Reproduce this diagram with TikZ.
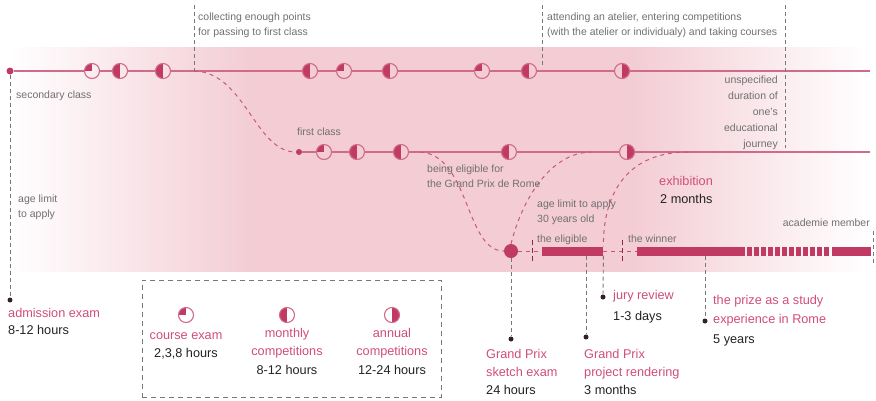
\documentclass[tikz,border=0pt]{standalone}
\usepackage{fontspec}
\setmainfont{Liberation Sans}
\begin{document}
\definecolor{crim}{RGB}{192,58,100}
\definecolor{crimtext}{RGB}{208,78,118}
\definecolor{bandpink}{RGB}{243,204,212}
\definecolor{txtgray}{RGB}{112,112,112}
\definecolor{txtdark}{RGB}{34,34,34}
\definecolor{dashgray}{RGB}{120,120,120}
\definecolor{dotdark}{RGB}{50,35,30}
% the shaded path is mapped onto the central 25bp--75bp part of the shading
\pgfdeclarehorizontalshading{bandfade}{100bp}{color(0bp)=(white); color(25.5bp)=(white); color(39.5bp)=(bandpink); color(61bp)=(bandpink); color(74.5bp)=(white); color(100bp)=(white)}
\tikzset{
  lbl/.style={inner sep=0, text=txtgray, font=\fontsize{10.5}{12}\selectfont, anchor=base west},
  lblbig/.style={inner sep=0, text=crimtext, font=\fontsize{12.7}{15}\selectfont, anchor=base west},
  lbldark/.style={lblbig, text=txtdark},
  icon/.style={circle, draw=crim!75, line width=1.1pt, minimum size=15pt, inner sep=0},
  courseicon/.style={icon, path picture={\fill[crim] (path picture bounding box.center) rectangle (path picture bounding box.north west);}},
  monthicon/.style={icon, path picture={\fill[crim] (path picture bounding box.north) rectangle (path picture bounding box.south west);}},
  yearicon/.style={icon, path picture={\fill[crim] (path picture bounding box.north) rectangle (path picture bounding box.south east);}},
  track/.style={crim!75, line width=1.1pt},
  route/.style={crim!85, line width=1pt, dash pattern=on 4pt off 4pt},
  guide/.style={dashgray, line width=0.9pt, dash pattern=on 4pt off 3pt},
  tickmark/.style={crim!70!black, line width=1pt, dash pattern=on 5pt off 3pt},
  enddot/.style={circle, fill=dotdark, minimum size=5pt, inner sep=0},
  bar/.style={fill=crim, draw=none, inner sep=0, minimum height=9pt},
  legendbox/.style={draw=dashgray, line width=0.9pt, dash pattern=on 5pt off 4pt, inner sep=0}
}
\begin{tikzpicture}[x=1pt, y=-1pt]
\useasboundingbox (0,0) rectangle (876,400);
% pink band behind the two tracks
\shade[shading=bandfade] (0,47) rectangle (876,271);

% secondary class track
\node[circle, fill=crim, minimum size=7pt, inner sep=0] (sdot) at (10,71) {};
\node[courseicon] (a1) at (92,71) {};
\node[monthicon]  (a2) at (120,71) {};
\node[monthicon]  (a3) at (163,71) {};
\node[monthicon]  (a4) at (310,71) {};
\node[courseicon] (a5) at (344,71) {};
\node[monthicon]  (a6) at (390,71) {};
\node[courseicon] (a7) at (482,71) {};
\node[monthicon]  (a8) at (529,71) {};
\node[yearicon]   (a9) at (622,71) {};
\coordinate (line1end) at (870,71);
\draw[track] (sdot) -- (a1) -- (a2) -- (a3) -- (a4) -- (a5) -- (a6) -- (a7) -- (a8) -- (a9) -- (line1end);

% first class track
\node[circle, fill=crim, minimum size=6pt, inner sep=0] (fdot) at (299,152) {};
\node[courseicon] (b1) at (324,152) {};
\node[monthicon]  (b2) at (357,152) {};
\node[monthicon]  (b3) at (401,152) {};
\node[monthicon]  (b4) at (509,152) {};
\node[yearicon]   (b5) at (627,152) {};
\coordinate (line2end) at (870,152);
\draw[track] (fdot) -- (b1) -- (b2) -- (b3) -- (b4) -- (b5) -- (line2end);

% Grand Prix stage
\node[circle, fill=crim, minimum size=14pt, inner sep=0] (bigdot) at (511,251) {};
\node[bar, minimum width=61pt, anchor=west] (elig) at (542,251) {};
\node[bar, minimum width=108pt, anchor=west] (win) at (637,251) {};
\node[bar, minimum width=39pt, anchor=west] (acad) at (832,251) {};
\foreach \i in {0,...,11} \fill[crim] ({747+\i*7},246.5) rectangle +(5.2,9);

% dashed routes between the tracks
\coordinate (leave1) at (194,71);
\coordinate (leave2) at (420,152);
\coordinate (join2) at (592,152);
\coordinate (leave3) at (688,152);
\draw[route] (leave1) .. controls (245,72) and (255,152) .. (fdot.west);
\draw[route] (leave2) .. controls (470,155) and (465,251) .. (bigdot.west);
\draw[route] (bigdot.north) .. controls (522,200) and (550,152) .. (join2);
\draw[route] (leave3) .. controls (630,152) and (603,190) .. (elig.north east);
\draw[route] (bigdot.east) -- (elig.west);
\draw[route] (elig.east) -- (win.west);
\coordinate (tickA1) at (532,240); \coordinate (tickA2) at (532,262);
\coordinate (tickB1) at (622,240); \coordinate (tickB2) at (622,262);
\draw[tickmark] (tickA1) -- (tickA2);
\draw[tickmark] (tickB1) -- (tickB2);

% grey guide lines
\coordinate (collTop) at (194,5);
\coordinate (atTop) at (542,5);
\coordinate (atBot) at (542,68);
\coordinate (durTop) at (785,5);
\coordinate (durBot) at (785,148);
\coordinate (acTop) at (873,231);
\coordinate (acBot) at (873,266);
\draw[guide] (collTop) -- (leave1);
\draw[guide] (atTop) -- (atBot);
\draw[guide] (durTop) -- (durBot);
\draw[guide] (acTop) -- (acBot);

\node[enddot] (admdot) at (10,300) {};
\node[enddot] (sketchdot) at (511,339) {};
\node[enddot] (renderdot) at (586,337) {};
\node[enddot] (jurydot) at (603,297) {};
\node[enddot] (prizedot) at (705,321) {};
\draw[guide] (sdot) -- (admdot);
\draw[guide] (bigdot) -- (sketchdot);
\draw[guide] (elig.south -| renderdot) -- (renderdot);
\draw[guide] (elig.south east) -- (jurydot);
\draw[guide] (win.south -| prizedot) -- (prizedot);

% small grey labels
\node[lbl] (coll1) at (198,20) {collecting enough points};
\node[lbl] (coll2) at (198,35) {for passing to first class};
\node[lbl] (att1) at (547,20) {attending an atelier, entering competitions};
\node[lbl] (att2) at (547,35) {(with the atelier or individualy) and taking courses};
\node[lbl] (sec) at (16,98) {secondary class};
\node[lbl] (age1) at (18,202) {age limit};
\node[lbl] (age2) at (18,217) {to apply};
\node[lbl, anchor=base east] (dur1) at (778,83) {unspecified};
\node[lbl, anchor=base east] (dur2) at (778,99) {duration of};
\node[lbl, anchor=base east] (dur3) at (778,115) {one's};
\node[lbl, anchor=base east] (dur4) at (778,131) {educational};
\node[lbl, anchor=base east] (dur5) at (778,147) {journey};
\node[lbl] (first) at (297,135) {first class};
\node[lbl] (elg1) at (427,172) {being eligible for};
\node[lbl] (elg2) at (427,187) {the Grand Prix de Rome};
\node[lbl] (lim1) at (537,207) {age limit to apply};
\node[lbl] (lim2) at (537,222) {30 years old};
\node[lbl] (eligtxt) at (537,242) {the eligible};
\node[lbl] (wintxt) at (628,242) {the winner};
\node[lbl, anchor=base east] (acadtxt) at (870,226) {academie member};

% stage labels
\node[lblbig] (exh1) at (659,185) {exhibition};
\node[lbldark] (exh2) at (660,203) {2 months};
\node[lblbig] (adm1) at (8,317) {admission exam};
\node[lbldark] (adm2) at (8,334) {8-12 hours};
\node[lblbig] (sk1) at (486,358) {Grand Prix};
\node[lblbig] (sk2) at (486,376) {sketch exam};
\node[lbldark] (sk3) at (486,394) {24 hours};
\node[lblbig] (re1) at (584,358) {Grand Prix};
\node[lblbig] (re2) at (584,376) {project rendering};
\node[lbldark] (re3) at (584,394) {3 months};
\node[lblbig] (ju1) at (613,299) {jury review};
\node[lbldark] (ju2) at (613,320) {1-3 days};
\node[lblbig] (pr1) at (713,304) {the prize as a study};
\node[lblbig] (pr2) at (713,323) {experience in Rome};
\node[lbldark] (pr3) at (713,343) {5 years};

% legend
\node[legendbox, minimum width=299pt, minimum height=117pt] (legend) at (291.5,338.5) {};
\node[courseicon] (lg1) at (186,315) {};
\node[monthicon] (lg2) at (287,315) {};
\node[yearicon] (lg3) at (392,315) {};
\node[lblbig, anchor=base] (lc1) at (186,339) {course exam};
\node[lbldark, anchor=base] (lc2) at (186,357) {2,3,8 hours};
\node[lblbig, anchor=base] (lm1) at (287,337) {monthly};
\node[lblbig, anchor=base] (lm2) at (287,355) {competitions};
\node[lbldark, anchor=base] (lm3) at (287,374) {8-12 hours};
\node[lblbig, anchor=base] (ly1) at (392,337) {annual};
\node[lblbig, anchor=base] (ly2) at (392,355) {competitions};
\node[lbldark, anchor=base] (ly3) at (392,374) {12-24 hours};
\end{tikzpicture}
\end{document}
